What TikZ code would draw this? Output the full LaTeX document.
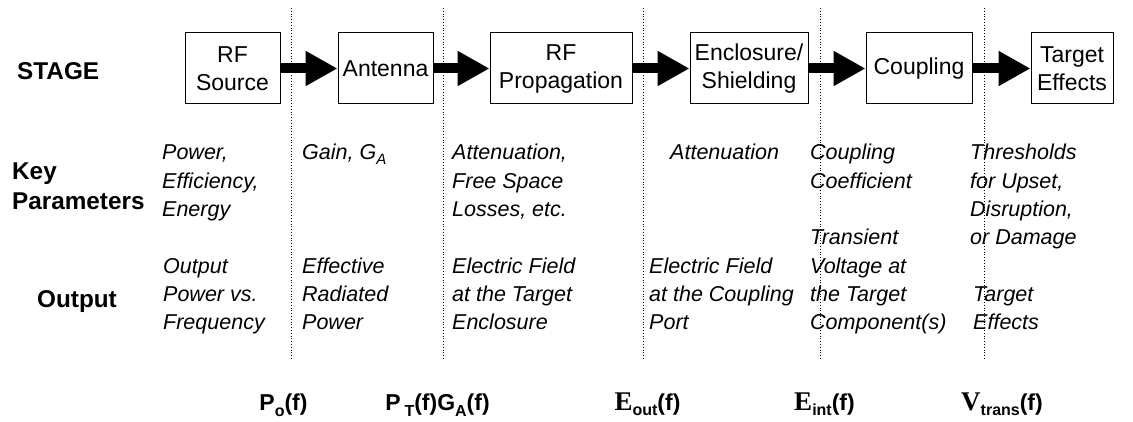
\documentclass[tikz,border=0pt]{standalone}
\usepackage{fontspec}
\setmainfont{Liberation Sans}
\newfontfamily\serifbold{Liberation Serif}
\usetikzlibrary{arrows.meta}
\newcommand{\lowsub}[2][6pt]{\raisebox{-#1}{\fontsize{16}{16}\selectfont #2}}
\newcommand{\itsub}[1]{\raisebox{-5pt}{\fontsize{15}{15}\selectfont #1}}
\begin{document}
\begin{tikzpicture}[x=1pt,y=-1pt,
  stagebox/.style={draw, line width=1pt, inner sep=0pt, align=center,
    font=\fontsize{23}{28}\selectfont, minimum height=71pt},
  param/.style={anchor=base west, inner sep=0pt, align=left,
    font=\fontsize{21.5}{28.3}\selectfont\itshape},
  rowlabel/.style={anchor=base west, inner sep=0pt, align=left,
    font=\fontsize{24.3}{30}\selectfont\bfseries},
  flow/.style={line width=10pt, -{Triangle[length=32pt,width=33pt]}},
  divider/.style={dotted, line width=0.8pt},
  qty/.style={anchor=base, inner sep=0pt, font=\fontsize{23}{28}\selectfont\bfseries}]
\useasboundingbox (0,0) rectangle (1133,422);
\fill[white] (0,0) rectangle (1133,422);

% dividers
\foreach \x in {291,443,643,820,984}
  \draw[divider] (\x,8) -- (\x,360);

% stage boxes
\node[stagebox, minimum width=95pt]  (src)  at (232.5,68.5) {RF\\Source};
\node[stagebox, minimum width=95pt]  (ant)  at (385.5,68.5) {Antenna};
\node[stagebox, minimum width=142pt] (prop) at (561,68.5)   {RF\\Propagation};
\node[stagebox, minimum width=118pt] (encl) at (749,68.5)   {Enclosure/\\Shielding};
\node[stagebox, minimum width=106pt] (coup) at (919,68.5)   {Coupling};
\node[stagebox, minimum width=82pt]  (targ) at (1072,68.5)  {Target\\Effects};

% flow arrows
\draw[flow] (src.east)  -- (ant.west);
\draw[flow] (ant.east)  -- (prop.west);
\draw[flow] (prop.east) -- (encl.west);
\draw[flow] (encl.east) -- (coup.west);
\draw[flow] (coup.east) -- (targ.west);

% row labels (anchor = baseline of last line)
\node[rowlabel] (lstage) at (17,80)  {STAGE};
\node[rowlabel] (lkey)   at (12,210) {Key\\Parameters};
\node[rowlabel] (lout)   at (37,308) {Output};

% key parameters
\node[param] (k1) at (162,216.6) {Power,\\Efficiency,\\Energy};
\node[param] (k2) at (302,160)   {Gain, G\itsub{A}};
\node[param] (k3) at (452,216.6) {Attenuation,\\Free Space\\Losses, etc.};
\node[param] (k4) at (670,160)   {Attenuation};
\node[param] (k5) at (810,188.3) {Coupling\\Coefficient};
\node[param] (k6) at (970,244.9) {Thresholds\\for Upset,\\Disruption,\\or Damage};

% outputs
\node[param] (o1) at (163,329.6) {Output\\Power vs.\\Frequency};
\node[param] (o2) at (302,329.6) {Effective\\Radiated\\Power};
\node[param] (o3) at (452,329.6) {Electric Field\\at the Target\\Enclosure};
\node[param] (o4) at (649,329.6) {Electric Field\\at the Coupling\\Port};
\node[param] (o5) at (810,329.6) {Transient\\Voltage at\\the Target\\Component(s)};
\node[param] (o6) at (973,329.6) {Target\\Effects};

% quantities
\node[qty] (q1) at (283.5,410) {P\lowsub{o}(f)};
\node[qty] (q2) at (437.5,410) {P\,\lowsub{T}(f)G\lowsub{A}(f)};
\node[qty] (q3) at (647.5,410) {{\serifbold\fontsize{27}{28}\selectfont E}\lowsub[5pt]{out}(f)};
\node[qty] (q4) at (824.5,410) {{\serifbold\fontsize{27}{28}\selectfont E}\lowsub[5pt]{int}(f)};
\node[qty] (q5) at (1002,410)  {{\serifbold\fontsize{27}{28}\selectfont V}\lowsub[5pt]{trans}(f)};
\end{tikzpicture}
\end{document}
